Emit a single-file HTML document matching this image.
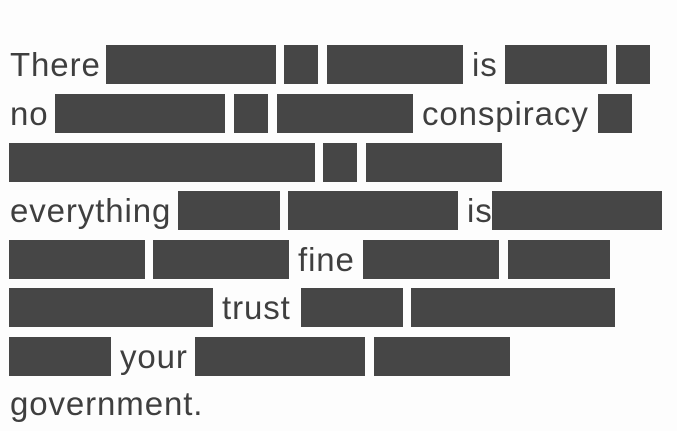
<!DOCTYPE html>
<html><head><meta charset="utf-8"><style>
html,body{margin:0;padding:0;background:#fdfdfd;width:677px;height:431px;overflow:hidden;position:relative}
.b{position:absolute;background:#464646;height:39px}
.t{position:absolute;font-family:"Liberation Sans",sans-serif;font-size:33px;line-height:39px;height:39px;color:#3f3f3f;white-space:nowrap;letter-spacing:0.9px}
</style></head><body>
<div class="t" style="left:10px;top:45px">There</div>
<div class="b" style="left:106px;top:45px;width:170px"></div>
<div class="b" style="left:284px;top:45px;width:34px"></div>
<div class="b" style="left:327px;top:45px;width:136px"></div>
<div class="t" style="left:472px;top:45px">is</div>
<div class="b" style="left:505px;top:45px;width:102px"></div>
<div class="b" style="left:616px;top:45px;width:34px"></div>

<div class="t" style="left:10px;top:94px">no</div>
<div class="b" style="left:55px;top:94px;width:170px"></div>
<div class="b" style="left:234px;top:94px;width:34px"></div>
<div class="b" style="left:277px;top:94px;width:136px"></div>
<div class="t" style="left:422px;top:94px">conspiracy</div>
<div class="b" style="left:598px;top:94px;width:34px"></div>

<div class="b" style="left:9px;top:143px;width:306px"></div>
<div class="b" style="left:323px;top:143px;width:34px"></div>
<div class="b" style="left:366px;top:143px;width:136px"></div>

<div class="t" style="left:10px;top:191px">everything</div>
<div class="b" style="left:178px;top:191px;width:102px"></div>
<div class="b" style="left:288px;top:191px;width:170px"></div>
<div class="t" style="left:467px;top:191px">is</div>
<div class="b" style="left:492px;top:191px;width:170px"></div>

<div class="b" style="left:9px;top:240px;width:136px"></div>
<div class="b" style="left:153px;top:240px;width:136px"></div>
<div class="t" style="left:298px;top:240px">fine</div>
<div class="b" style="left:363px;top:240px;width:136px"></div>
<div class="b" style="left:508px;top:240px;width:102px"></div>

<div class="b" style="left:9px;top:288px;width:204px"></div>
<div class="t" style="left:222px;top:288px">trust</div>
<div class="b" style="left:301px;top:288px;width:102px"></div>
<div class="b" style="left:411px;top:288px;width:204px"></div>

<div class="b" style="left:9px;top:337px;width:102px"></div>
<div class="t" style="left:120px;top:337px">your</div>
<div class="b" style="left:195px;top:337px;width:170px"></div>
<div class="b" style="left:374px;top:337px;width:136px"></div>

<div class="t" style="left:10px;top:384px">government.</div>
</body></html>
